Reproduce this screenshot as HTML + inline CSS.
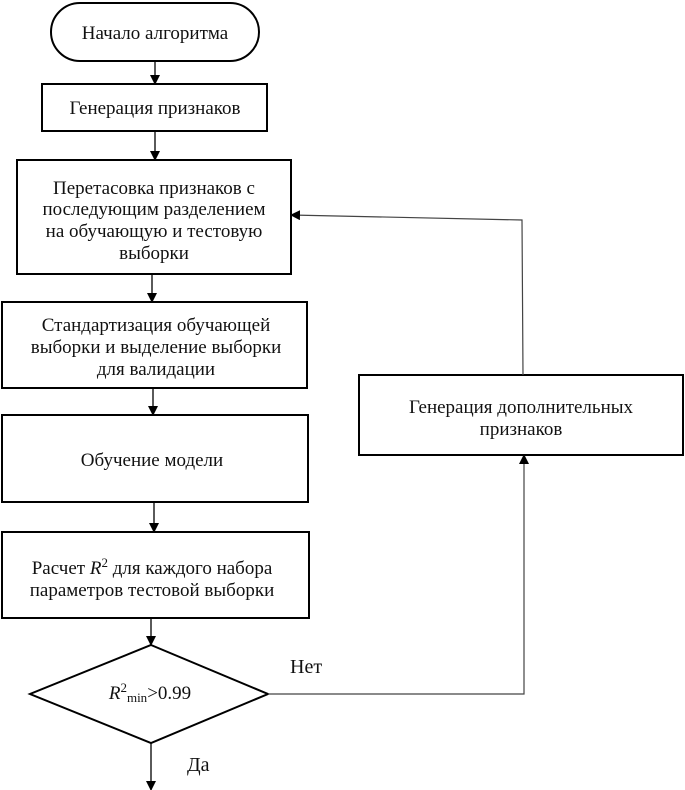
<!DOCTYPE html>
<html><head><meta charset="utf-8"><style>
html,body{margin:0;padding:0;background:#fff;}
svg{display:block;}
text{font-family:"Liberation Serif",serif;fill:#111;}
</style></head><body>
<svg width="685" height="790" viewBox="0 0 685 790" xmlns="http://www.w3.org/2000/svg" font-size="19">
<defs>
<marker id="a" markerWidth="10" markerHeight="10" refX="9" refY="5" orient="auto" markerUnits="userSpaceOnUse"><path d="M0,0 L10,5 L0,10 z" fill="#000"/></marker>
</defs>
<g fill="none" stroke="#000" stroke-width="2">
<rect x="51" y="3" width="208" height="58" rx="29"/>
<rect x="42" y="84" width="225" height="47"/>
<rect x="17" y="160" width="274" height="114"/>
<rect x="2" y="302" width="305" height="86"/>
<rect x="2" y="415" width="306" height="87"/>
<rect x="2" y="532" width="307" height="86"/>
<polygon points="151,645 268,694 151,743 30,694"/>
<rect x="359" y="375" width="324" height="80"/>
</g>
<g stroke="#000" stroke-width="1.3" fill="none">
<line x1="155" y1="61" x2="155" y2="84" marker-end="url(#a)"/>
<line x1="155" y1="131" x2="155" y2="160" marker-end="url(#a)"/>
<line x1="152" y1="274" x2="152" y2="302" marker-end="url(#a)"/>
<line x1="153" y1="388" x2="153" y2="415" marker-end="url(#a)"/>
<line x1="154" y1="502" x2="154" y2="532" marker-end="url(#a)"/>
<line x1="151" y1="618" x2="151" y2="645" marker-end="url(#a)"/>
<line x1="151" y1="743" x2="151" y2="790" marker-end="url(#a)"/>
</g>
<g stroke="#444" stroke-width="1.2" fill="none">
<polyline points="268,694 524,694 524,455" marker-end="url(#a)"/>
<polyline points="523,375 522,220 291,215" marker-end="url(#a)"/>
</g>
<text x="155" y="39" text-anchor="middle">Начало алгоритма</text>
<text x="155" y="114" text-anchor="middle">Генерация признаков</text>
<text x="154" y="194" text-anchor="middle">Перетасовка признаков с</text>
<text x="154" y="215" text-anchor="middle">последующим разделением</text>
<text x="154" y="237" text-anchor="middle">на обучающую и тестовую</text>
<text x="154" y="259" text-anchor="middle">выборки</text>
<text x="156" y="331" text-anchor="middle">Стандартизация обучающей</text>
<text x="156" y="353" text-anchor="middle">выборки и выделение выборки</text>
<text x="156" y="375" text-anchor="middle">для валидации</text>
<text x="152" y="466" text-anchor="middle">Обучение модели</text>
<text x="152" y="574" text-anchor="middle">Расчет <tspan font-style="italic">R</tspan><tspan font-size="13" dy="-7">2</tspan><tspan dy="7"> для каждого набора</tspan></text>
<text x="152" y="596" text-anchor="middle">параметров тестовой выборки</text>
<text x="150" y="699" text-anchor="middle"><tspan font-style="italic">R</tspan><tspan font-size="13" dy="-7">2</tspan><tspan font-size="13" dy="10">min</tspan><tspan dy="-3">&gt;0.99</tspan></text>
<text x="521" y="413" text-anchor="middle">Генерация дополнительных</text>
<text x="521" y="435" text-anchor="middle">признаков</text>
<text x="290" y="673" font-size="20">Нет</text>
<text x="187" y="771" font-size="20">Да</text>
</svg>
</body></html>
